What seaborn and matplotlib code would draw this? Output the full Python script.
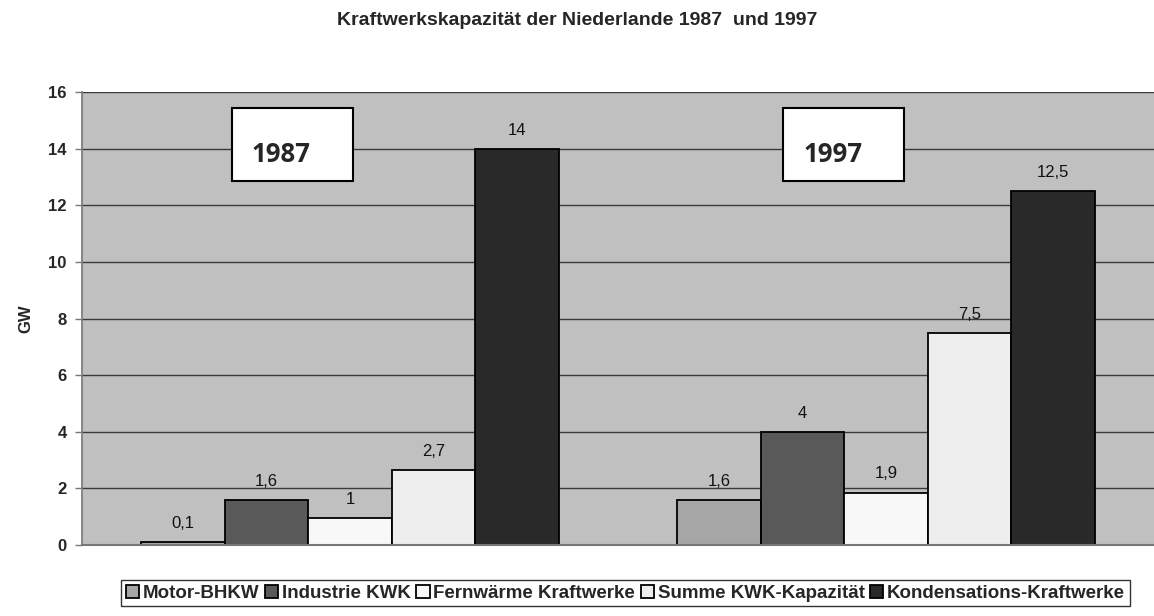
import pandas as pd
import seaborn as sns
import matplotlib.pyplot as plt
from matplotlib.patches import Rectangle

# data
jahre = ["1987", "1997"]
typen = ["Motor-BHKW", "Industrie KWK", "Fernwärme Kraftwerke",
         "Summe KWK-Kapazität", "Kondensations-Kraftwerke"]
werte_1987 = [0.1, 1.6, 0.95, 2.65, 14.0]
werte_1997 = [1.6, 4.0, 1.85, 7.5, 12.5]
labels_1987 = ["0,1", "1,6", "1", "2,7", "14"]
labels_1997 = ["1,6", "4", "1,9", "7,5", "12,5"]
farben = ["#a6a6a6", "#595959", "#f8f8f8", "#eeeeee", "#292929"]

rows = []
for jahr, werte in zip(jahre, [werte_1987, werte_1997]):
    for typ, w in zip(typen, werte):
        rows.append({"Jahr": jahr, "Typ": typ, "GW": w})
df = pd.DataFrame(rows)

sns.set_style("white")
plt.rcParams["font.family"] = ["Liberation Sans", "DejaVu Sans"]

fig = plt.figure(figsize=(11.54, 6.16), dpi=100)
ax = fig.add_axes([0.0711, 0.1153, 0.9289, 0.7353])
ax.set_facecolor("#c0c0c0")

sns.barplot(data=df, x="Jahr", y="GW", hue="Typ", hue_order=typen,
            palette=farben, edgecolor="black", linewidth=1.3,
            width=0.78, gap=0, ax=ax, legend=True)

# value labels above bars
for i, cont in enumerate(ax.containers):
    ax.bar_label(cont, labels=[labels_1987[i], labels_1997[i]],
                 padding=8, fontsize=12, color="#111111")

ax.set_ylim(0, 16)
ax.set_yticks(range(0, 17, 2))
ax.yaxis.grid(True, color="#3a3a3a", linewidth=1.0)
ax.set_axisbelow(True)
ax.set_xticks([])
ax.set_xlabel("")
ax.set_ylabel("GW", fontsize=12, fontweight="bold", labelpad=11)
for lab in ax.get_yticklabels():
    lab.set_fontweight("bold")
    lab.set_fontsize(12)
ax.tick_params(axis="y", left=True, length=5, width=1, color="#777777", pad=6)
for side in ["top", "right"]:
    ax.spines[side].set_visible(False)
ax.spines["left"].set_color("#777777")
ax.spines["bottom"].set_color("#777777")
ax.spines["left"].set_linewidth(1.2)
ax.spines["bottom"].set_linewidth(1.5)

# year boxes (figure pixel positions)
W, H = 1154, 616
for jahr, x0, tx in zip(jahre, [232, 783], [281.5, 833.5]):
    box = Rectangle((x0 / W, 1 - 181 / H), 121 / W, 73 / H,
                    transform=fig.transFigure, facecolor="white",
                    edgecolor="black", linewidth=1.5, zorder=5)
    fig.add_artist(box)
    fig.text(tx / W, 1 - 155 / H, jahr, ha="center", va="center",
             fontsize=18.5, fontweight="bold", family=["Open Sans", "DejaVu Sans"],
             zorder=6)

fig.text(0.5, 0.966, "Kraftwerkskapazität der Niederlande 1987  und 1997",
         ha="center", va="center", fontsize=14, fontweight="bold")

ax.legend_.remove()
handles, lbls = ax.get_legend_handles_labels()
leg = fig.legend(handles, lbls, loc="center", bbox_to_anchor=(0.542, 0.037),
                 ncol=5, frameon=True, handlelength=0.7,
                 handleheight=0.7, handletextpad=0.2, columnspacing=0.3,
                 borderpad=0.25, fancybox=False, edgecolor="black",
                 prop={"weight": "bold", "size": 13.5})
leg.get_frame().set_linewidth(1.0)

fig.savefig("out.png", dpi=100, facecolor="white")
